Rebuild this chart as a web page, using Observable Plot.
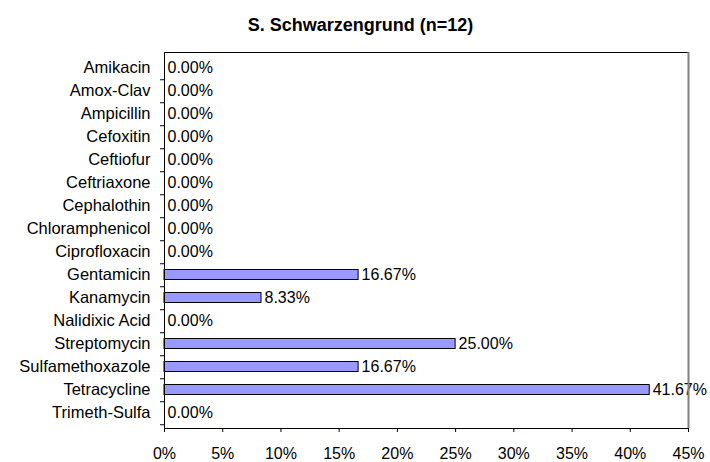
<!DOCTYPE html>
<html>
<head>
<meta charset="utf-8">
<script src="https://cdn.jsdelivr.net/npm/d3@7"></script>
<script src="https://cdn.jsdelivr.net/npm/@observablehq/plot@0.6"></script>
<style>
  html, body { margin: 0; padding: 0; background: white; }
</style>
</head>
<body>
<div id="chart"></div>
<script>
const title = "S. Schwarzengrund (n=12)";
const categories = [
  "Amikacin", "Amox-Clav", "Ampicillin", "Cefoxitin", "Ceftiofur",
  "Ceftriaxone", "Cephalothin", "Chloramphenicol", "Ciprofloxacin",
  "Gentamicin", "Kanamycin", "Nalidixic Acid", "Streptomycin",
  "Sulfamethoxazole", "Tetracycline", "Trimeth-Sulfa"
];
const values = [0, 0, 0, 0, 0, 0, 0, 0, 0, 0.1667, 0.0833, 0, 0.25, 0.1667, 0.4167, 0];
const xTicks = [0, 0.05, 0.10, 0.15, 0.20, 0.25, 0.30, 0.35, 0.40, 0.45];

const data = categories.map((c, i) => ({drug: c, value: values[i]}));

const chart = Plot.plot({
  width: 710,
  height: 462,
  marginTop: 52,
  marginBottom: 34,
  marginLeft: 164,
  marginRight: 22,
  style: {fontFamily: "'Liberation Sans', Arial, sans-serif", fontSize: "16px", color: "black", background: "white"},
  x: {domain: [0, 0.45]},
  y: {domain: categories, padding: 0},
  marks: [
    Plot.barX(data, {x: "value", y: "drug", fill: "#9999FF", stroke: "black", strokeWidth: 1, insetTop: 6.5, insetBottom: 6.5}),
    Plot.text(data, {x: "value", y: "drug", text: d => d3.format(".2%")(d.value), textAnchor: "start", dx: 3}),
    Plot.frame({stroke: "black"}),
    Plot.ruleX([0.45], {stroke: "#808080", strokeWidth: 2}),
    Plot.axisX({ticks: xTicks, tickFormat: d3.format(".0%"), tickSize: 4, tickPadding: 15, label: null}),
    Plot.axisY({tickSize: 0, tickPadding: 14, label: null, fontSize: 16.5}),
    Plot.axisY({tickSize: 4, tickFormat: () => "", dy: 11.75, label: null}),
    Plot.text([title], {frameAnchor: "top-left", dx: 196, dy: -34, fontWeight: "bold", fontSize: 18, textAnchor: "middle"})
  ]
});
document.getElementById("chart").appendChild(chart);
</script>
</body>
</html>
